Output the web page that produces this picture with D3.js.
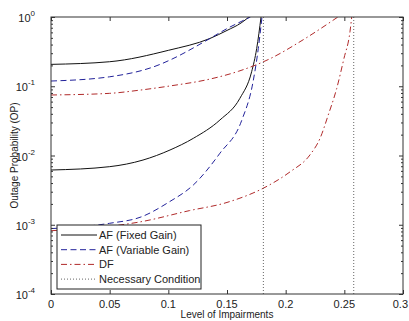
<!DOCTYPE html>
<html>
<head>
<meta charset="utf-8">
<script src="https://cdn.jsdelivr.net/npm/d3@7"></script>
<style>
  body { margin: 0; background: #fff; }
  text { font-family: "Liberation Sans", Arial, sans-serif; fill: #222; }
</style>
</head>
<body>
<svg id="chart" width="409" height="321"></svg>
<script>
// level of impairments (kappa) and outage probability
const afFixedHighK = [0, 0.05, 0.1, 0.1355, 0.15, 0.162, 0.1687]
const afFixedHighOP = [0.207, 0.226, 0.33, 0.49, 0.64, 0.82, 1.0]
const afVarHighK = [0, 0.05, 0.093, 0.1014, 0.1355, 0.15, 0.162, 0.17]
const afVarHighOP = [0.119, 0.137, 0.207, 0.239, 0.49, 0.68, 0.86, 1.0]
const dfHighK = [0, 0.05, 0.076, 0.1014, 0.1355, 0.16, 0.1867, 0.215, 0.2445]
const dfHighOP = [0.0748, 0.079, 0.088, 0.101, 0.127, 0.165, 0.25, 0.47, 1.0]

const afFixedLowK = [0, 0.05, 0.0784, 0.1014, 0.1213, 0.144, 0.161, 0.171, 0.1753, 0.179]
const afFixedLowOP = [0.00617, 0.0069, 0.0086, 0.012, 0.0177, 0.0326, 0.067, 0.162, 0.35, 1.0]
const afVarLowK = [0, 0.05, 0.077, 0.1, 0.1213, 0.144, 0.1625, 0.1722, 0.1767, 0.1798]
const afVarLowOP = [0.00088, 0.00105, 0.0013, 0.0021, 0.00375, 0.0108, 0.032, 0.116, 0.353, 1.0]
const dfLowK = [0, 0.05, 0.076, 0.118, 0.15, 0.1867, 0.2037, 0.2207, 0.2293, 0.2363, 0.2435, 0.2497, 0.2548, 0.2563]
const dfLowOP = [0.00082, 0.00095, 0.0011, 0.0016, 0.0021, 0.0038, 0.0058, 0.0102, 0.0177, 0.0385, 0.093, 0.253, 0.61, 1.0]

// necessary condition thresholds
const necessaryK = [0.181, 0.258]

const xTicks = [0, 0.05, 0.1, 0.15, 0.2, 0.25, 0.3]
const xTickLabels = ['0', '0.05', '0.1', '0.15', '0.2', '0.25', '0.3']
const yExponents = [0, -1, -2, -3, -4]

const legendLabels = ['AF (Fixed Gain)', 'AF (Variable Gain)', 'DF', 'Necessary Condition']

const conf = {
  left: 51,
  right: 403,
  top: 17,
  bottom: 294,
  fontSize: 11
}

const styles = [
  { color: '#111', dash: null },
  { color: '#22229a', dash: '6,3.5' },
  { color: '#b02a2a', dash: '6,3,1.5,3' },
  { color: '#666', dash: '1,2' }
]

const svg = d3.select('#chart')

const x = d3.scaleLinear().domain([0, 0.3]).range([conf.left, conf.right])
const y = d3.scaleLog().domain([1e-4, 1]).range([conf.bottom, conf.top])

svg.append('defs').append('clipPath').attr('id', 'plotclip')
  .append('rect')
  .attr('x', conf.left).attr('y', conf.top)
  .attr('width', conf.right - conf.left).attr('height', conf.bottom - conf.top)

const plot = svg.append('g').attr('clip-path', 'url(#plotclip)')

const line = d3.line()
  .x(d => x(d[0]))
  .y(d => y(d[1]))
  .curve(d3.curveMonotoneX)

function drawSeries (ks, ops, style) {
  const pts = ks.map((k, i) => [k, ops[i]])
  plot.append('path')
    .datum(pts)
    .attr('d', line)
    .attr('fill', 'none')
    .attr('stroke', style.color)
    .attr('stroke-width', 1)
    .attr('stroke-dasharray', style.dash)
}

drawSeries(afFixedHighK, afFixedHighOP, styles[0])
drawSeries(afFixedLowK, afFixedLowOP, styles[0])
drawSeries(afVarHighK, afVarHighOP, styles[1])
drawSeries(afVarLowK, afVarLowOP, styles[1])
drawSeries(dfHighK, dfHighOP, styles[2])
drawSeries(dfLowK, dfLowOP, styles[2])

necessaryK.forEach(k => {
  plot.append('line')
    .attr('x1', x(k)).attr('x2', x(k))
    .attr('y1', conf.top).attr('y2', conf.bottom)
    .attr('stroke', styles[3].color)
    .attr('stroke-width', 1)
    .attr('stroke-dasharray', styles[3].dash)
})

// axes box with inward ticks on all four sides
const axisColor = '#333'
const bottomAxis = d3.axisBottom(x).tickValues(xTicks).tickSize(-4).tickFormat('')
const topAxis = d3.axisTop(x).tickValues(xTicks).tickSize(-4).tickFormat('')

const minor = []
for (let e = -4; e < 0; e++) {
  for (let m = 2; m <= 9; m++) minor.push(m * Math.pow(10, e))
}
const major = yExponents.map(e => Math.pow(10, e))

function styleAxis (g) {
  g.select('.domain').remove()
  g.selectAll('line').attr('stroke', axisColor)
}

svg.append('g').attr('transform', `translate(0,${conf.bottom})`).call(bottomAxis).call(styleAxis)
svg.append('g').attr('transform', `translate(0,${conf.top})`).call(topAxis).call(styleAxis)
svg.append('g').attr('transform', `translate(${conf.left},0)`)
  .call(d3.axisLeft(y).tickValues(major).tickSize(-4).tickFormat('')).call(styleAxis)
svg.append('g').attr('transform', `translate(${conf.left},0)`)
  .call(d3.axisLeft(y).tickValues(minor).tickSize(-2).tickFormat('')).call(styleAxis)
svg.append('g').attr('transform', `translate(${conf.right},0)`)
  .call(d3.axisRight(y).tickValues(major).tickSize(-4).tickFormat('')).call(styleAxis)
svg.append('g').attr('transform', `translate(${conf.right},0)`)
  .call(d3.axisRight(y).tickValues(minor).tickSize(-2).tickFormat('')).call(styleAxis)

svg.append('rect')
  .attr('x', conf.left).attr('y', conf.top)
  .attr('width', conf.right - conf.left).attr('height', conf.bottom - conf.top)
  .attr('fill', 'none').attr('stroke', axisColor).attr('stroke-width', 1)

// tick labels (last one pulled in so it stays on the page)
xTicks.forEach((t, i) => {
  const last = i === xTicks.length - 1
  svg.append('text')
    .attr('x', last ? 408 : x(t)).attr('y', conf.bottom + 14)
    .attr('text-anchor', last ? 'end' : 'middle')
    .attr('font-size', conf.fontSize)
    .text(xTickLabels[i])
})

yExponents.forEach(e => {
  const t = svg.append('text')
    .attr('x', conf.left - 16).attr('y', y(Math.pow(10, e)) + 5)
    .attr('text-anchor', 'end')
    .attr('font-size', conf.fontSize)
  t.append('tspan').text('10')
  t.append('tspan')
    .attr('dy', -6)
    .attr('font-size', 8)
    .text(String(e))
})

// axis titles
svg.append('text')
  .attr('x', (conf.left + conf.right) / 2).attr('y', 318)
  .attr('text-anchor', 'middle')
  .attr('font-size', 10)
  .text('Level of Impairments')

svg.append('text')
  .attr('transform', `translate(18,${(conf.top + conf.bottom) / 2}) rotate(-90)`)
  .attr('text-anchor', 'middle')
  .attr('font-size', 10)
  .text('Outage Probability (OP)')

// legend
const legend = svg.append('g')
legend.append('rect')
  .attr('x', 57).attr('y', 225)
  .attr('width', 144).attr('height', 64)
  .attr('fill', '#fff')
  .attr('stroke', '#222').attr('stroke-width', 1)

legendLabels.forEach((label, i) => {
  const ly = 235 + i * 14.7
  legend.append('line')
    .attr('x1', 61).attr('x2', 97)
    .attr('y1', ly).attr('y2', ly)
    .attr('stroke', styles[i].color)
    .attr('stroke-width', 1)
    .attr('stroke-dasharray', styles[i].dash)
  legend.append('text')
    .attr('x', 99).attr('y', ly + 4)
    .attr('font-size', conf.fontSize)
    .text(label)
})
</script>
</body>
</html>
